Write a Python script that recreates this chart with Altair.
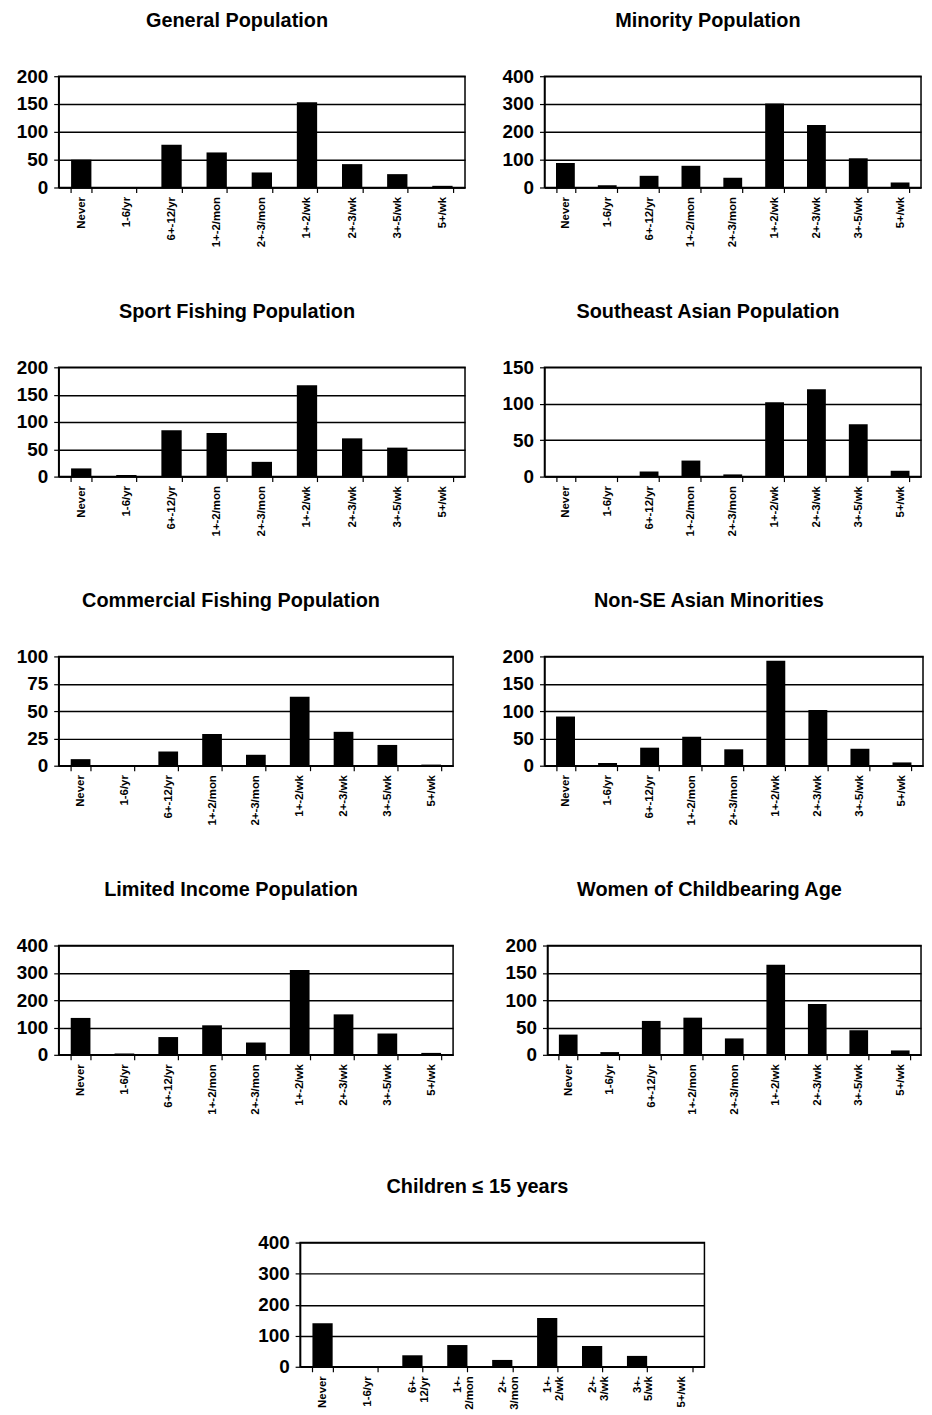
import altair as alt
import pandas as pd

categories = ["Never", "1-6/yr", "6+-12/yr", "1+-2/mon", "2+-3/mon",
              "1+-2/wk", "2+-3/wk", "3+-5/wk", "5+/wk"]

general = [50, 0, 77, 63, 27, 153, 42, 24, 3]
minority = [88, 8, 42, 78, 35, 302, 225, 105, 18]
sport = [15, 3, 85, 80, 27, 167, 70, 53, 1]
se_asian = [0, 0, 7, 22, 3, 102, 120, 72, 8]
commercial = [6, 0, 13, 29, 10, 63, 31, 19, 1]
non_se_asian = [90, 5, 33, 53, 30, 192, 102, 31, 6]
limited_income = [135, 5, 65, 108, 45, 310, 148, 78, 7]
women = [37, 5, 62, 68, 30, 165, 93, 45, 8]
children = [140, 2, 37, 70, 22, 157, 67, 35, 2]

titles = ["General Population", "Minority Population",
          "Sport Fishing Population", "Southeast Asian Population",
          "Commercial Fishing Population", "Non-SE Asian Minorities",
          "Limited Income Population", "Women of Childbearing Age",
          "Children \u2264 15 years"]
y_max = [200, 400, 200, 150, 100, 200, 400, 200, 400]
y_step = [50, 100, 50, 50, 25, 50, 100, 50, 100]

FONT = "Liberation Sans, Arial, Helvetica"


def panel(title, values, ymax, ystep, width, height, xext, wrap=False):
    df = pd.DataFrame({"cat": categories, "val": values})
    xkw = dict(title=None, labelAngle=-90, labelFont=FONT, labelFontWeight="bold",
               labelFontSize=11.5, labelColor="black", domainColor="black",
               domainWidth=1.5, tickColor="black", tickWidth=1.2, tickBand="extent",
               tickSize=5, labelPadding=4, minExtent=xext, maxExtent=xext, grid=False)
    if wrap:
        xkw["labelExpr"] = "split(replace(datum.label, '+-', '+-|'), '|')"
        xkw["labelLineHeight"] = 12
    x_axis = alt.Axis(**xkw)
    y_axis = alt.Axis(title=None, values=list(range(0, ymax + 1, ystep)),
                      labelFont=FONT, labelFontSize=19, labelFontWeight="bold",
                      labelColor="black", grid=True, gridColor="black", gridWidth=1.5,
                      domainColor="black", domainWidth=1.5, tickColor="black",
                      tickWidth=1.2, tickSize=5, labelPadding=6,
                      minExtent=50, maxExtent=50)
    return alt.Chart(df).mark_bar(color="black").encode(
        x=alt.X("cat:N", sort=categories,
                scale=alt.Scale(paddingInner=0.55, paddingOuter=0.275), axis=x_axis),
        y=alt.Y("val:Q", scale=alt.Scale(domain=[0, ymax], nice=False), axis=y_axis),
    ).properties(
        width=width, height=height,
        title=alt.TitleParams(title, frame="bounds", anchor="middle", fontSize=20,
                              font=FONT, fontWeight="bold", color="black", offset=37),
    )


series = [general, minority, sport, se_asian, commercial, non_se_asian,
          limited_income, women, children]

# per-row layout: (left width, spacing, right width, plot height, x-axis extent)
rows_layout = [
    (409, 28, 379, 112, 62),
    (409, 28, 379, 110, 62),
    (397, 40, 381, 110, 62),
    (397, 43, 376, 110, 70),
]

rows = []
for r, (lw, sp, rw, h, xe) in enumerate(rows_layout):
    i, j = 2 * r, 2 * r + 1
    left = panel(titles[i], series[i], y_max[i], y_step[i], lw, h, xe)
    right = panel(titles[j], series[j], y_max[j], y_step[j], rw, h, xe)
    rows.append(alt.hconcat(left, right, spacing=sp))

spacer = alt.Chart(pd.DataFrame({"a": [0]})).mark_point(opacity=0).encode(
    x=alt.value(0), y=alt.value(0)
).properties(width=192, height=10, view=alt.ViewBackground(strokeOpacity=0))
child = panel(titles[8], series[8], y_max[8], y_step[8], 407, 125, 62, wrap=True)
rows.append(alt.hconcat(spacer, child, spacing=0))

chart = alt.vconcat(*rows, spacing=51).properties(
    padding={"top": -3, "left": 0, "right": 0, "bottom": 0}, background="white"
).configure_view(stroke="black", strokeWidth=1.5)

chart.save("out.html", embed_options={"renderer": "svg", "actions": False})
